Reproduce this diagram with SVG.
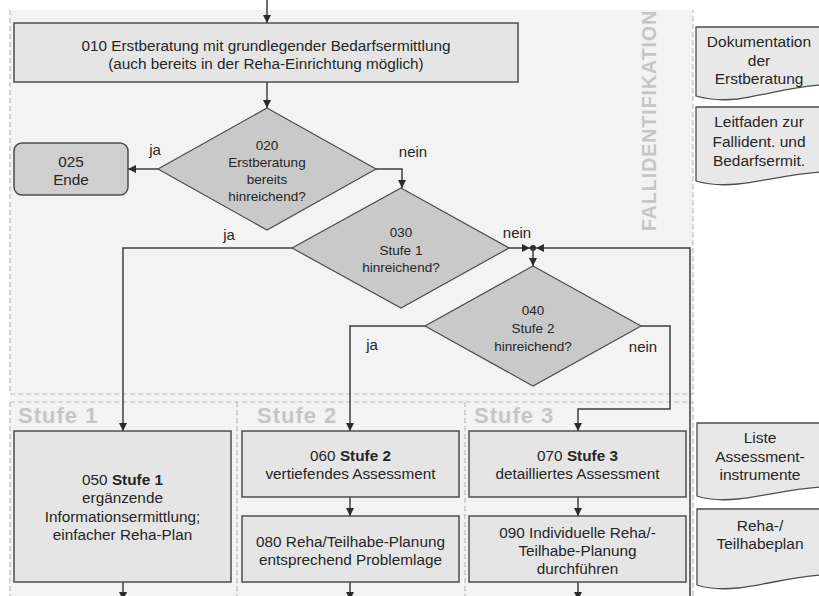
<svg xmlns="http://www.w3.org/2000/svg" width="819" height="596" viewBox="0 0 819 596">
<defs>
<style>
.bg{fill:#f3f3f3}
.dash{stroke:#bdbdbd;stroke-width:1.2;stroke-dasharray:5 3;fill:none}
.box{fill:#e5e5e5;stroke:#4d4d4d;stroke-width:1.5}
.dia{fill:#c9c9c9;stroke:#4d4d4d;stroke-width:1.2}
.end{fill:#cfcfcf;stroke:#4d4d4d;stroke-width:1.5}
.doc{fill:#e8e8e8;stroke:#4d4d4d;stroke-width:1.3}
.t{font-family:"Liberation Sans",Arial,sans-serif;font-size:15.3px;fill:#262626;text-anchor:middle}
.tx{font-family:"Liberation Sans",Arial,sans-serif;font-size:15.5px;fill:#262626;text-anchor:middle}
.td{font-family:"Liberation Sans",Arial,sans-serif;font-size:13.5px;fill:#262626;text-anchor:middle}
.lbl{font-family:"Liberation Sans",Arial,sans-serif;font-size:15px;fill:#262626;text-anchor:middle}
.sec{font-family:"Liberation Sans",Arial,sans-serif;font-size:22px;font-weight:bold;fill:#c6c6c6;letter-spacing:1px}
.vert{font-family:"Liberation Sans",Arial,sans-serif;font-size:19.5px;font-weight:bold;fill:#c6c6c6;letter-spacing:1px}
.c{fill:none;stroke:#3f3f3f;stroke-width:1.5}
</style>
<marker id="ah" viewBox="0 0 10 10" refX="10" refY="5" markerWidth="8" markerHeight="8" markerUnits="userSpaceOnUse" orient="auto">
<path d="M0,0 L10,5 L0,10 Z" fill="#2b2b2b"/>
</marker>
</defs>

<g id="background">
<rect class="bg" x="10" y="10" width="683" height="586"/>
<path class="dash" d="M10,10 V394 H693 V10"/>
<path class="dash" d="M10,402 H693 V596 M10,402 V596 M237,402 V596 M465,402 V596"/>
<text class="sec" x="18" y="423">Stufe 1</text>
<text class="sec" x="257" y="423">Stufe 2</text>
<text class="sec" x="474" y="423">Stufe 3</text>
<text class="vert" transform="translate(656,231) rotate(-90)">FALLIDENTIFIKATION</text>
</g>

<g id="connectors">
<path class="c" d="M267,0 V23" marker-end="url(#ah)"/>
<path class="c" d="M267,82 V108" marker-end="url(#ah)"/>
<path class="c" d="M158,169 H128" marker-end="url(#ah)"/>
<path class="c" d="M376,169 H402 V188" marker-end="url(#ah)"/>
<path class="c" d="M292,248 H123 V431" marker-end="url(#ah)"/>
<path class="c" d="M509,248 H530" marker-end="url(#ah)"/>
<path class="c" d="M690,600 V248 H536" marker-end="url(#ah)"/>
<circle cx="533" cy="248" r="3" fill="#2b2b2b"/>
<path class="c" d="M533,248 V266" marker-end="url(#ah)"/>
<path class="c" d="M425,326 H350 V431" marker-end="url(#ah)"/>
<path class="c" d="M641,326 H670 V409 H578 V431" marker-end="url(#ah)"/>
<path class="c" d="M350,497 V516" marker-end="url(#ah)"/>
<path class="c" d="M578,497 V516" marker-end="url(#ah)"/>
<path class="c" d="M123,582 V600" marker-end="url(#ah)"/>
<path class="c" d="M350,582 V600" marker-end="url(#ah)"/>
<path class="c" d="M578,582 V600" marker-end="url(#ah)"/>
<text class="lbl" x="155" y="155">ja</text>
<text class="lbl" x="413" y="157">nein</text>
<text class="lbl" x="229" y="240">ja</text>
<text class="lbl" x="517" y="238">nein</text>
<text class="lbl" x="372" y="350">ja</text>
<text class="lbl" x="643" y="352">nein</text>
</g>

<g id="n010">
<rect class="box" x="14" y="23" width="504" height="59"/>
<text class="t" x="266" y="51">010 Erstberatung mit grundlegender Bedarfsermittlung</text>
<text class="t" x="266" y="69">(auch bereits in der Reha-Einrichtung möglich)</text>
</g>

<g id="n020">
<polygon class="dia" points="267,108 376,169 267,230 158,169"/>
<text class="td" x="267" y="150">020</text>
<text class="td" x="267" y="167">Erstberatung</text>
<text class="td" x="267" y="184">bereits</text>
<text class="td" x="267" y="201">hinreichend?</text>
</g>

<g id="n025">
<rect class="end" x="14" y="143" width="114" height="52" rx="8"/>
<text class="t" x="71" y="167">025</text>
<text class="t" x="71" y="185">Ende</text>
</g>

<g id="n030">
<polygon class="dia" points="401,188 509,248 401,308 292,248"/>
<text class="td" x="401" y="237">030</text>
<text class="td" x="401" y="255">Stufe 1</text>
<text class="td" x="401" y="272">hinreichend?</text>
</g>

<g id="n040">
<polygon class="dia" points="533,266 641,326 533,386 425,326"/>
<text class="td" x="533" y="315">040</text>
<text class="td" x="533" y="333">Stufe 2</text>
<text class="td" x="533" y="351">hinreichend?</text>
</g>

<g id="n050">
<rect class="box" x="14" y="431" width="217" height="151"/>
<text class="t" x="122.5" y="485">050 <tspan font-weight="bold">Stufe 1</tspan></text>
<text class="t" x="122.5" y="503">ergänzende</text>
<text class="t" x="122.5" y="522">Informationsermittlung;</text>
<text class="t" x="122.5" y="540">einfacher Reha-Plan</text>
</g>

<g id="n060">
<rect class="box" x="242" y="431" width="217" height="66"/>
<text class="t" x="350.5" y="461">060 <tspan font-weight="bold">Stufe 2</tspan></text>
<text class="t" x="350.5" y="479">vertiefendes Assessment</text>
</g>

<g id="n080">
<rect class="box" x="242" y="516" width="217" height="66"/>
<text class="t" x="350.5" y="547">080 Reha/Teilhabe-Planung</text>
<text class="t" x="350.5" y="565">entsprechend Problemlage</text>
</g>

<g id="n070">
<rect class="box" x="469" y="431" width="217" height="66"/>
<text class="t" x="577.5" y="461">070 <tspan font-weight="bold">Stufe 3</tspan></text>
<text class="t" x="577.5" y="479">detailliertes Assessment</text>
</g>

<g id="n090">
<rect class="box" x="469" y="516" width="217" height="66"/>
<text class="t" x="577.5" y="538">090 Individuelle Reha/-</text>
<text class="t" x="577.5" y="556">Teilhabe-Planung</text>
<text class="t" x="577.5" y="574">durchführen</text>
</g>

<g id="doc1">
<path class="doc" d="M696,27 H821 V85 C790,87 765,95 738,99 C718,101 706,99 696,96 Z"/>
<text class="tx" x="759" y="47">Dokumentation</text>
<text class="tx" x="759" y="66">der</text>
<text class="tx" x="759" y="84">Erstberatung</text>
</g>

<g id="doc2">
<path class="doc" d="M696,107 H821 V172 C790,174 765,181 738,184 C718,186 706,184 696,181 Z"/>
<text class="tx" x="759" y="127">Leitfaden zur</text>
<text class="tx" x="759" y="147">Fallident. und</text>
<text class="tx" x="759" y="166">Bedarfsermit.</text>
</g>

<g id="doc3">
<path class="doc" d="M697,423 H821 V487 C790,489 765,496 738,499 C718,501 706,499 697,496 Z"/>
<text class="tx" x="760" y="443">Liste</text>
<text class="tx" x="760" y="462">Assessment-</text>
<text class="tx" x="760" y="480">instrumente</text>
</g>

<g id="doc4">
<path class="doc" d="M697,509 H821 V575 C790,577 765,585 738,588 C718,590 706,588 697,585 Z"/>
<text class="tx" x="760" y="531">Reha-/</text>
<text class="tx" x="760" y="549">Teilhabeplan</text>
</g>
</svg>
